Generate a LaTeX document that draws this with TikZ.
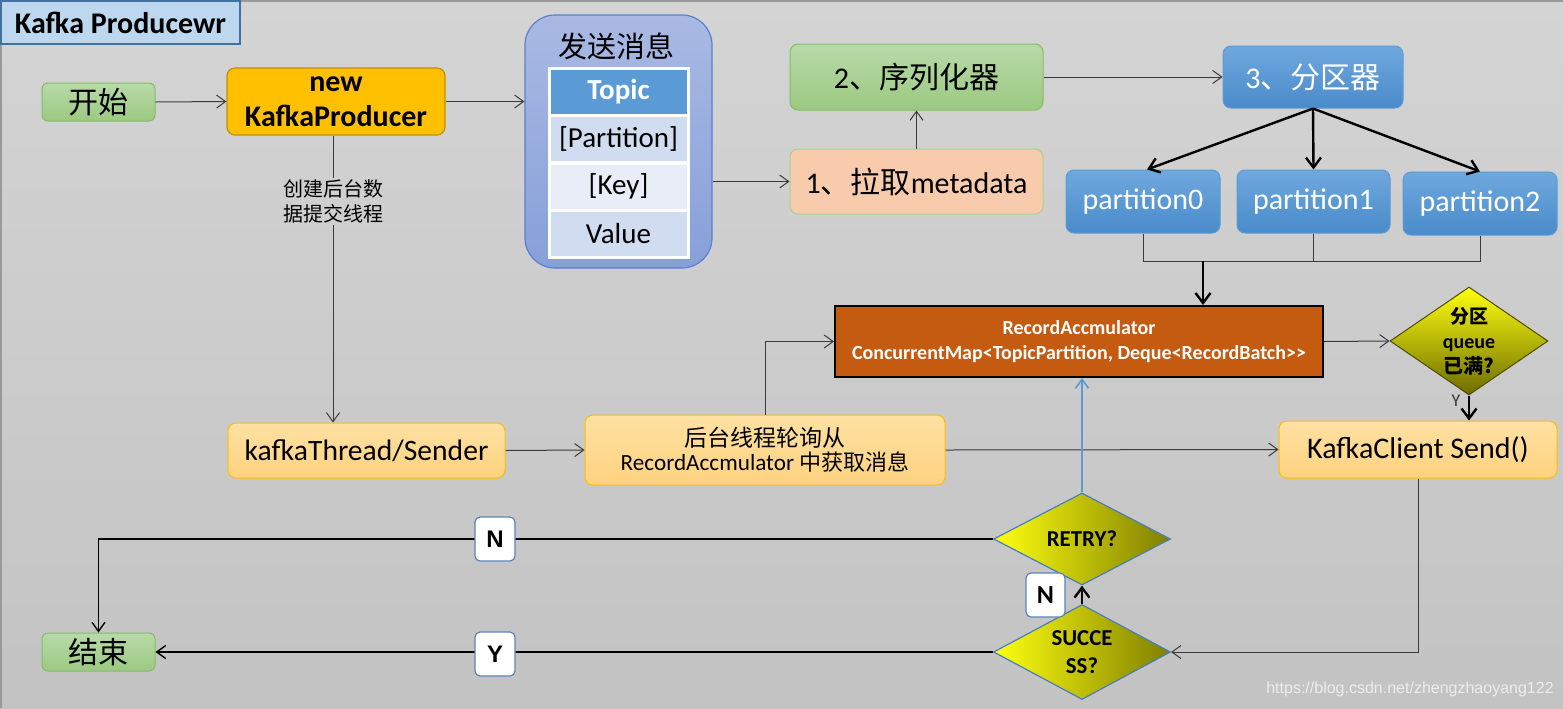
\documentclass[tikz,border=0pt]{standalone}
\usepackage{fontspec}
\setmainfont{Carlito}
\newfontfamily\cjk{Noto Sans CJK SC}
\newfontfamily\arialf{Liberation Sans}
\usetikzlibrary{shapes.geometric,arrows.meta,calc}
\newcommand{\fsz}[2]{\fontsize{#1}{#2}\selectfont}
\definecolor{bgtop}{HTML}{D4D4D4}
\definecolor{bgbot}{HTML}{C3C3C3}
\definecolor{labbg}{HTML}{CFCFCF}
\definecolor{titlefill}{HTML}{BDD7EE}
\definecolor{titleedge}{HTML}{41719C}
\definecolor{grtop}{HTML}{B8DAA9}
\definecolor{grbot}{HTML}{9BC981}
\definecolor{gredge}{HTML}{86BB64}
\definecolor{kpfill}{HTML}{FFC000}
\definecolor{kpedge}{HTML}{BF9000}
\definecolor{msgtop}{HTML}{A9B9E2}
\definecolor{msgbot}{HTML}{87A0D9}
\definecolor{msgedge}{HTML}{5B7FD0}
\definecolor{topicfill}{HTML}{5B9BD5}
\definecolor{rowa}{HTML}{D0DCEF}
\definecolor{rowb}{HTML}{E9EDF7}
\definecolor{metafill}{HTML}{F8CBAD}
\definecolor{metaedge}{HTML}{A9D18E}
\definecolor{bltop}{HTML}{6FA8DD}
\definecolor{blbot}{HTML}{4A8BCB}
\definecolor{bledge}{HTML}{5B9BD5}
\definecolor{accfill}{HTML}{C55A11}
\definecolor{ortop}{HTML}{FFE1A3}
\definecolor{orbot}{HTML}{FFD27F}
\definecolor{oredge}{HTML}{FFC000}
\definecolor{dmleft}{HTML}{FFFF10}
\definecolor{dmright}{HTML}{7F7F00}
\definecolor{dmedge}{HTML}{4A7EBB}
\definecolor{lineg}{HTML}{3A3A3A}
\definecolor{bluearr}{HTML}{5B9BD5}
\definecolor{lbledge}{HTML}{5A83B5}
\definecolor{wmark}{HTML}{EDEDED}
\begin{document}
\begin{tikzpicture}[x=0.5pt,y=-0.5pt,
  greenbox/.style={rectangle,rounded corners=3pt,top color=grtop,bottom color=grbot,draw=gredge,line width=0.5pt,inner sep=0pt,minimum width=56.5pt,minimum height=19pt,font=\cjk\fsz{15pt}{18pt}},
  bluebox/.style={rectangle,rounded corners=4pt,top color=bltop,bottom color=blbot,draw=bledge,line width=0.5pt,inner sep=0pt,text=white},
  orbox/.style={rectangle,rounded corners=4pt,top color=ortop,bottom color=orbot,draw=oredge,line width=0.5pt,inner sep=0pt,align=center},
  rowbox/.style={rectangle,draw=white,line width=1.5pt,minimum width=69.5pt,minimum height=23.5pt,inner sep=0pt,font=\fsz{14.5pt}{17pt}},
  hdiam/.style={diamond,left color=dmleft,right color=dmright,draw=dmedge,line width=0.6pt,inner sep=0pt,align=center,font=\bfseries\fsz{11.4pt}{14pt}},
  lblbox/.style={rectangle,rounded corners=2.5pt,fill=white,draw=lbledge,line width=0.6pt,inner sep=0pt,minimum width=20pt,minimum height=22pt,font=\arialf\bfseries\fsz{12pt}{14pt}},
  thinarr/.style={draw=lineg,line width=0.5pt,-{Straight Barb[length=4.5pt,width=6.5pt]}},
  thinline/.style={draw=lineg,line width=0.5pt},
  thickarr/.style={draw=black,line width=1.2pt,-{Straight Barb[length=5pt,width=7.5pt]}}
]
\useasboundingbox (0,0) rectangle (1563,708);
\fill[top color=bgtop,bottom color=bgbot] (0,0) rectangle (1563,708);
\draw[gray!80,line width=0.6pt] (1,708) -- (1,1) -- (1563,1);

% title
\node[rectangle,fill=titlefill,draw=titleedge,line width=1pt,minimum width=119.5pt,minimum height=21.5pt,inner sep=0pt,font=\bfseries\fsz{15pt}{17pt}] (title) at (120.5,22.5) {Kafka Producewr};

% nodes
\node[greenbox] (start) at (98.5,102) {开始};
\node[rectangle,rounded corners=4pt,fill=kpfill,draw=kpedge,line width=0.6pt,minimum width=109pt,minimum height=33.5pt,inner sep=0pt,align=center,font=\bfseries\fsz{15pt}{17.5pt}] (kp) at (336,101.5) {new\\KafkaProducer};

\node[rectangle,rounded corners=15pt,top color=msgtop,bottom color=msgbot,draw=msgedge,line width=0.6pt,minimum width=93.5pt,minimum height=126.5pt,inner sep=0pt] (msg) at (618.5,141.5) {};
\node[font=\cjk\fsz{14.5pt}{17pt},inner sep=0pt] (msgt) at (616,46) {发送消息};
\node[rowbox,fill=topicfill,text=white,font=\bfseries\fsz{14.5pt}{17pt}] (topic) at (618.5,91.5) {Topic};
\node[rowbox,fill=rowa] (rpart) at (618.5,139) {[Partition]};
\node[rowbox,fill=rowb] (rkey) at (618.5,186.5) {[Key]};
\node[rowbox,fill=rowa] (rval) at (618.5,234) {Value};

\node[rectangle,rounded corners=4pt,top color=grtop,bottom color=grbot,draw=gredge,line width=0.5pt,minimum width=126.5pt,minimum height=33pt,inner sep=0pt,font=\fsz{15pt}{18pt}] (ser) at (916.5,77) {2{\cjk 、序列化器}};
\node[rectangle,rounded corners=4pt,fill=metafill,draw=metaedge,line width=0.5pt,minimum width=126.5pt,minimum height=32.5pt,inner sep=0pt,font=\fsz{15pt}{18pt}] (meta) at (916.5,181.5) {1{\cjk 、拉取}metadata};

\node[bluebox,minimum width=90pt,minimum height=31pt,font=\fsz{15pt}{18pt}] (part) at (1313,77) {3{\cjk 、分区器}};
\node[bluebox,minimum width=77pt,minimum height=31.5pt,font=\fsz{15pt}{18pt}] (p0) at (1143,201.5) {partition0};
\node[bluebox,minimum width=76.5pt,minimum height=31.5pt,font=\fsz{15pt}{18pt}] (p1) at (1313.5,201.5) {partition1};
\node[bluebox,minimum width=77pt,minimum height=31.5pt,font=\fsz{15pt}{18pt}] (p2) at (1480,203.5) {partition2};

\node[rectangle,fill=accfill,draw=black,line width=1pt,minimum width=244pt,minimum height=35.5pt,inner sep=0pt,text=white,align=center,font=\bfseries\fsz{10pt}{12.5pt}] (acc) at (1079,341.5) {RecordAccmulator\\ConcurrentMap<TopicPartition, Deque<RecordBatch>{}>};

\node[diamond,top color=dmleft,bottom color=dmright!85!black,draw=dmright!60!black,line width=0.5pt,minimum width=79pt,minimum height=54pt,inner sep=0pt,shape aspect=1.46,align=center] (qd) at (1469,341) {{\cjk\bfseries\fsz{9.5pt}{11pt}分区}\\[0.5pt]{\bfseries\fsz{10pt}{10pt}queue}\\[0.5pt]{\cjk\bfseries\fsz{10pt}{11pt}已满?}};
\node[font=\fsz{9pt}{10pt},text=lineg,inner sep=0pt] (ylab) at (1456,401) {Y};

\node[orbox,minimum width=138.5pt,minimum height=27.5pt,font=\fsz{14.8pt}{17pt}] (ktd) at (366.5,450.5) {kafkaThread/Sender};
\node[orbox,minimum width=180pt,minimum height=35pt] (poll) at (765,450) {{\cjk\fsz{11.5pt}{14pt}后台线程轮询从}\\[0pt]{\fsz{11.6pt}{13pt}RecordAccmulator {\cjk\fsz{11pt}{13pt}中获取消息}}};
\node[orbox,minimum width=139pt,minimum height=28.5pt,font=\fsz{15pt}{17pt}] (kcs) at (1418,449.5) {KafkaClient Send()};

\node[hdiam,minimum width=88.5pt,minimum height=46pt,shape aspect=1.9] (retry) at (1082,539) {RETRY?};
\node[hdiam,minimum width=88.5pt,minimum height=47.5pt,shape aspect=1.9] (succ) at (1082,652) {SUCCE\\SS?};

\node[greenbox] (end) at (98.5,652) {结束};

% connectors
\coordinate (vx) at (333,0);
\coordinate (hy) at (0,261);
\coordinate (jx) at (1203,261);
\draw[thinarr] (start.east) -- (kp.west);
\draw[thinarr] (kp.east) -- (kp.east -| msg.west);
\draw[thinarr] (msg.east |- meta.west) -- (meta.west);
\draw[thinarr] (meta.north) -- (ser.south);
\draw[thinarr] (ser.east) -- (part.west);
\draw[thickarr] (part.south) -- ($(p0.north)+(4,0)$);
\draw[thickarr] (part.south) -- (p1.north);
\draw[thickarr] (part.south) -- (p2.north);
\draw[thinline] (p0.south) |- (hy -| p2.south) -- (p2.south);
\draw[thinline] (p1.south) -- (p1.south |- hy);
\draw[thickarr] (jx) -- (jx |- acc.north);
\draw[thinarr] (acc.east) -- (qd.west);
\draw[thickarr] (qd.south) -- (qd.south |- kcs.north);
\draw[thinarr] (kp.south -| vx) -- (ktd.north -| vx) node[pos=0.23,fill=labbg,inner sep=1pt,align=center,font=\cjk\fsz{10pt}{12.5pt},text=black] (lbl) {创建后台数\\据提交线程};
\draw[thinarr] (ktd.east) -- (poll.west);
\draw[thinarr] (poll.north) |- (acc.west);
\draw[thinarr] (poll.east) -- (kcs.west);
\draw[thinarr] (kcs.south) |- (succ.east);
\draw[thickarr] (succ.north) -- (retry.south);
\draw[draw=bluearr,line width=0.8pt,-{Straight Barb[length=4.5pt,width=6.5pt]}] (retry.north) -- (retry.north |- acc.south);
\draw[draw=black,line width=0.7pt,-{Straight Barb[length=4.5pt,width=6.5pt]}] (retry.west) -| (end.north);
\draw[draw=black,line width=0.7pt,-{Straight Barb[length=4.5pt,width=6.5pt]}] (succ.west) -- (end.east);

% labels
\node[lblbox] (nl1) at (495,539) {N};
\node[lblbox] (yl1) at (495,654) {Y};
\node[lblbox,minimum width=19.5pt,font=\bfseries\fsz{13pt}{14pt}] (nl2) at (1045.5,595) {N};

\node[font=\arialf\fsz{8pt}{10pt},text=wmark,inner sep=0pt] (wm) at (1410,689) {https://blog.csdn.net/zhengzhaoyang122};
\end{tikzpicture}
\end{document}
